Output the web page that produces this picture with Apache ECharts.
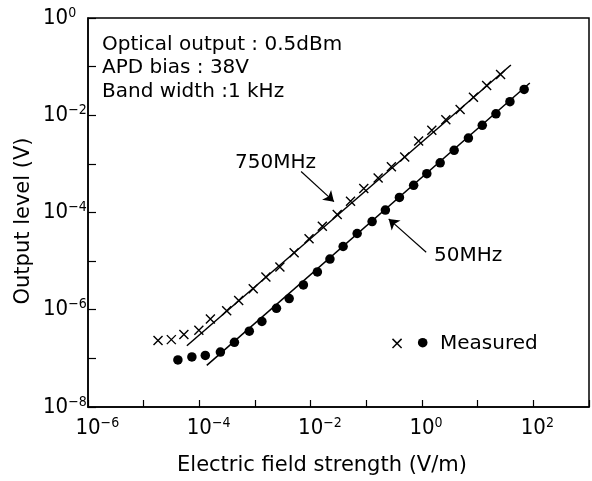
<!DOCTYPE html>
<html>
<head>
<meta charset="utf-8">
<script src="https://cdn.jsdelivr.net/npm/echarts@6/dist/echarts.min.js"></script>
<style>
  html, body { margin: 0; padding: 0; background: #fff; }
  #chart { width: 592px; height: 481px; }
</style>
</head>
<body>
<div id="chart"></div>
<script>
// measured points, 750MHz (crosses)
const crossX = [1.81e-5, 3.14e-5, 5.28e-5, 9.8e-5, 1.58e-4, 3.1e-4, 5.09e-4, 9.3e-4, 1.57e-3, 2.8e-3, 5.05e-3, 9.35e-3, 1.62e-2, 3.0e-2, 5.2e-2, 9.0e-2, 0.163, 0.282, 0.489, 0.87, 1.5, 2.68, 4.84, 8.4, 14.5, 25.8];
const crossY = [2.34e-7, 2.43e-7, 3.09e-7, 3.8e-7, 6.46e-7, 9.5e-7, 1.55e-6, 2.7e-6, 4.7e-6, 7.6e-6, 1.48e-5, 2.9e-5, 5.2e-5, 9.1e-5, 1.7e-4, 3.1e-4, 5.1e-4, 8.7e-4, 1.38e-3, 2.95e-3, 4.9e-3, 8.1e-3, 1.32e-2, 2.34e-2, 4.1e-2, 6.9e-2];
// measured points, 50MHz (dots)
const dotX = [4.12e-5, 7.35e-5, 1.28e-4, 2.39e-4, 4.27e-4, 7.9e-4, 1.33e-3, 2.43e-3, 4.11e-3, 7.4e-3, 1.32e-2, 2.22e-2, 3.83e-2, 6.84e-2, 0.127, 0.22, 0.393, 0.708, 1.22, 2.12, 3.78, 6.82, 12.1, 21.3, 38, 68.4];
const dotY = [9.3e-8, 1.07e-7, 1.15e-7, 1.35e-7, 2.14e-7, 3.63e-7, 5.75e-7, 1.07e-6, 1.7e-6, 3.24e-6, 6.0e-6, 1.1e-5, 2.0e-5, 3.7e-5, 6.5e-5, 1.12e-4, 2.04e-4, 3.63e-4, 6.3e-4, 1.05e-3, 1.9e-3, 3.39e-3, 6.2e-3, 1.07e-2, 1.9e-2, 3.39e-2];
// straight fitted lines
const fit750X = [5.97e-5, 39.5];
const fit750Y = [1.82e-7, 0.108];
const fit50X = [1.36e-4, 86.5];
const fit50Y = [7.2e-8, 4.6e-2];
// annotation arrows (tail, head)
const arrow750 = [[6.73e-3, 6.95e-4], [2.62e-2, 1.67e-4]];
const arrow50 = [[1.19, 1.52e-5], [0.252, 7.38e-5]];
// axes
const xMin = 1e-6, xMax = 1e3;
const yMin = 1e-8, yMax = 1;

const numFont = "'Liberation Sans Narrow', 'DejaVu Sans Condensed', 'Liberation Sans', sans-serif";
const txtFont = "'DejaVu Sans', sans-serif";

function pair(xs, ys) {
  return xs.map((x, i) => [x, ys[i]]);
}

function expText(v) {
  const e = Math.round(Math.log10(v));
  if (e % 2 !== 0) return null;
  return e < 0 ? '\u2212' + (-e) : String(e);
}

const richNum = {
  b: { fontSize: 22, fontFamily: numFont, color: '#000', lineHeight: 24 },
  s: { fontSize: 14, fontFamily: numFont, color: '#000', verticalAlign: 'top', lineHeight: 12 },
  h: { fontSize: 14, fontFamily: numFont, color: 'rgba(0,0,0,0)', verticalAlign: 'top', lineHeight: 12 }
};

const chart = echarts.init(document.getElementById('chart'));

const option = {
  animation: false,
  grid: {
    left: 88, right: 1, top: 18, bottom: 74,
    show: true, borderColor: '#000', borderWidth: 1.5
  },
  xAxis: {
    type: 'log', logBase: 10, min: xMin, max: xMax, splitNumber: 9,
    axisLine: { show: true, lineStyle: { color: '#000', width: 1.5 } },
    axisTick: { show: true, inside: true, length: 7, lineStyle: { color: '#000', width: 1.2 } },
    minorTick: { show: false },
    splitLine: { show: false },
    axisLabel: {
      interval: 0, margin: 9, showMinLabel: true, showMaxLabel: true,
      formatter: function (v) {
        const s = expText(v);
        if (s === null) return '';
        return '{h|' + s + '}{b|10}{s|' + s + '}';
      },
      rich: richNum
    }
  },
  yAxis: {
    type: 'log', logBase: 10, min: yMin, max: yMax, splitNumber: 8,
    axisLine: { show: true, lineStyle: { color: '#000', width: 1.5 } },
    axisTick: { show: true, inside: true, length: 8, lineStyle: { color: '#000', width: 1.2 } },
    minorTick: { show: false },
    splitLine: { show: false },
    axisLabel: {
      interval: 0, margin: 45, align: 'left', showMinLabel: true, showMaxLabel: true,
      formatter: function (v) {
        const s = expText(v);
        if (s === null) return '';
        return '{b|10}{s|' + s + '}';
      },
      rich: richNum
    }
  },
  series: [
    {
      name: '750MHz fit', type: 'line', data: pair(fit750X, fit750Y),
      showSymbol: false, silent: true,
      lineStyle: { color: '#000', width: 1.5 }
    },
    {
      name: '50MHz fit', type: 'line', data: pair(fit50X, fit50Y),
      showSymbol: false, silent: true,
      lineStyle: { color: '#000', width: 1.5 }
    },
    {
      name: '750MHz', type: 'scatter', data: pair(crossX, crossY),
      symbol: 'path://M0,0L10,10M0,10L10,0', symbolSize: 9,
      itemStyle: { color: 'rgba(0,0,0,0)', borderColor: '#000', borderWidth: 1.4, opacity: 1 }
    },
    {
      name: '50MHz', type: 'scatter', data: pair(dotX, dotY),
      symbol: 'circle', symbolSize: 9.5,
      itemStyle: { color: '#000', opacity: 1 }
    },
    {
      name: 'arrows', type: 'lines', coordinateSystem: 'cartesian2d',
      symbol: ['none', 'arrow'], symbolSize: 10, silent: true,
      lineStyle: { color: '#000', width: 1.2, opacity: 1 },
      data: [{ coords: arrow750 }, { coords: arrow50 }]
    }
  ],
  graphic: [
    { type: 'text', x: 102, y: 45, style: { text: 'Optical output : 0.5dBm', fontSize: 20, fontFamily: txtFont, fill: '#000', textAlign: 'left', textVerticalAlign: 'middle', verticalAlign: 'middle' } },
    { type: 'text', x: 102, y: 68, style: { text: 'APD bias : 38V', fontSize: 20, fontFamily: txtFont, fill: '#000', textAlign: 'left', textVerticalAlign: 'middle', verticalAlign: 'middle' } },
    { type: 'text', x: 102, y: 92, style: { text: 'Band width :1 kHz', fontSize: 20, fontFamily: txtFont, fill: '#000', textAlign: 'left', textVerticalAlign: 'middle', verticalAlign: 'middle' } },
    { type: 'text', x: 235, y: 163, style: { text: '750MHz', fontSize: 20, fontFamily: txtFont, fill: '#000', textAlign: 'left', textVerticalAlign: 'middle', verticalAlign: 'middle' } },
    { type: 'text', x: 434, y: 256, style: { text: '50MHz', fontSize: 20, fontFamily: txtFont, fill: '#000', textAlign: 'left', textVerticalAlign: 'middle', verticalAlign: 'middle' } },
    // legend
    { type: 'text', x: 397, y: 344, style: { text: '\u00d7', fontSize: 18, fontFamily: txtFont, fill: '#000', textAlign: 'center', textVerticalAlign: 'middle', verticalAlign: 'middle' } },
    { type: 'circle', shape: { cx: 422.7, cy: 342.7, r: 4.8 }, style: { fill: '#000' } },
    { type: 'text', x: 440, y: 344, style: { text: 'Measured', fontSize: 20, fontFamily: txtFont, fill: '#000', textAlign: 'left', textVerticalAlign: 'middle', verticalAlign: 'middle' } },
    // axis titles
    { type: 'text', x: 24, y: 221, rotation: Math.PI / 2, style: { text: 'Output level (V)', fontSize: 21, fontFamily: txtFont, fill: '#000', textAlign: 'center', textVerticalAlign: 'middle', verticalAlign: 'middle' } },
    { type: 'text', x: 322, y: 466, style: { text: 'Electric field strength (V/m)', fontSize: 21, fontFamily: txtFont, fill: '#000', textAlign: 'center', textVerticalAlign: 'middle', verticalAlign: 'middle' } }
  ]
};

chart.setOption(option);
</script>
</body>
</html>
